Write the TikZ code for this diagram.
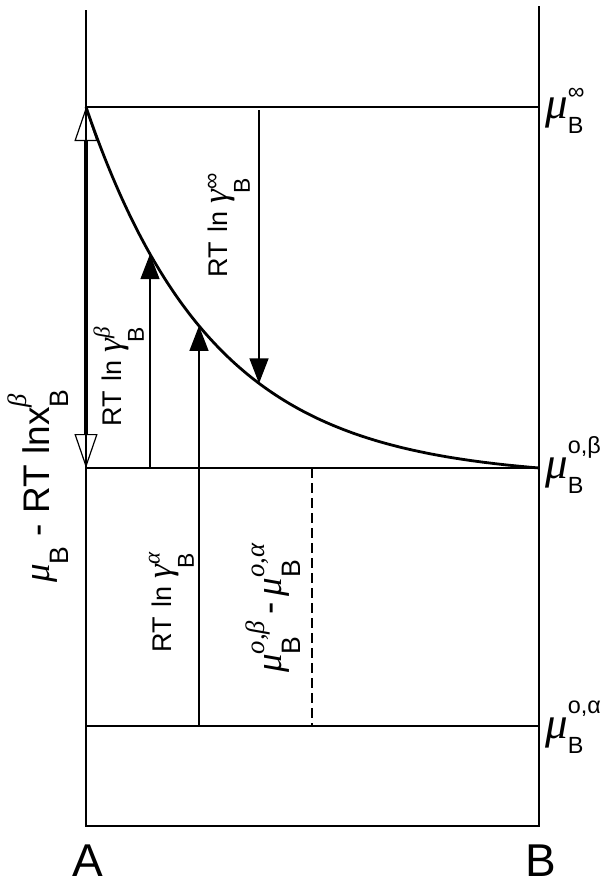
\documentclass[tikz,border=0pt]{standalone}
\usepackage{fontspec}
\setmainfont{Liberation Sans}
\newfontfamily\serifgr{Liberation Serif}
\usetikzlibrary{arrows.meta}
\newcommand{\gi}[1]{{\serifgr\itshape #1}}
\newdimen\scrw
\def\ssz{0.7em}\def\supup{0.5em}\def\subdn{0.6em}\def\muscale{1em}\def\subkern{0em}
% stacked super/subscript, both left aligned
\newcommand{\scr}[3][\supup]{%
  \setbox0\hbox{\fontsize{\ssz}{\ssz}\selectfont #2}%
  \setbox2\hbox{\fontsize{\ssz}{\ssz}\selectfont #3}%
  \scrw=\wd0 \ifdim\wd2>\scrw \scrw=\wd2\fi
  \hbox to \scrw{\rlap{\raisebox{#1}{\box0}}\rlap{\hspace*{\subkern}\raisebox{-\subdn}{\box2}}\hfil}}
\newcommand{\bmu}{{\serifgr\itshape\fontsize{\muscale}{\muscale}\selectfont μ}}
\newcommand{\bgam}{{\serifgr\itshape\fontsize{1.3em}{1em}\selectfont γ}}
\begin{document}
\begin{tikzpicture}[x=1pt,y=-1pt,
  thinline/.style={line width=1.3pt},
  curveline/.style={line width=2.8pt},
  solidarrow/.style={line width=1.3pt,-{Triangle[length=25pt,width=19pt]}},
  openarrow/.style={line width=3.4pt,{Triangle[open,length=34pt,width=23pt,line width=1.2pt]}-{Triangle[open,length=34pt,width=23pt,line width=1.2pt]}},
  smalllbl/.style={font=\fontsize{27}{30}\selectfont\def\ssz{0.85em}\def\supup{0.42em}\def\subdn{0.85em}\def\subkern{-0.15em},inner sep=0pt,anchor=base west},
  biglbl/.style={font=\fontsize{37}{40}\selectfont\def\ssz{0.72em}\def\supup{0.62em}\def\subdn{0.52em},inner sep=0pt,anchor=base west},
  sidelbl/.style={font=\fontsize{30}{34}\selectfont\def\ssz{0.78em}\def\supup{0.82em}\def\subdn{0.5em}\def\muscale{1.5em},inner sep=0pt,anchor=base west},
  ablbl/.style={font=\fontsize{46}{50}\selectfont,inner sep=0pt,anchor=base}]
\useasboundingbox (0,0) rectangle (613,878);
% frame coordinates
\coordinate (Ltop) at (86,10);
\coordinate (Rtop) at (539,6);
\coordinate (Lbot) at (86,826);
\coordinate (Rbot) at (539,826);
\coordinate (Linf) at (86,107);
\coordinate (Rinf) at (539,107);
\coordinate (Lbeta) at (86,468);
\coordinate (Rbeta) at (539,468);
\coordinate (Lalpha) at (86,726);
\coordinate (Ralpha) at (539,726);
% frame
\draw[thinline] (Ltop) -- (Lbot) -- (Rbot) -- (Rtop);
\draw[thinline] (Linf) -- (Rinf);
\draw[thinline] (Lbeta) -- (Rbeta);
\draw[thinline] (Lalpha) -- (Ralpha);
% curve
\draw[curveline,line join=round] plot[domain=86:539,samples=120,smooth]
  (\x,{107+361*(1-exp(-(\x-86)/127))/(1-exp(-453/127))});
% arrow end points
\coordinate (b1) at (150,468);
\coordinate (c1) at (150,254.1);
\coordinate (b2) at (199,726);
\coordinate (c2) at (199,325.9);
\coordinate (t3) at (259,110);
\coordinate (c3) at (259,383.4);
\coordinate (d1) at (312,468);
\coordinate (d2) at (312,726);
\draw[solidarrow] (b1) -- (c1);
\draw[solidarrow] (b2) -- (c2);
\draw[solidarrow] (t3) -- (c3);
\draw[thinline,dash pattern=on 10pt off 5pt] (d1) -- (d2);
\draw[openarrow] (Linf) -- (Lbeta);
% labels
\node[smalllbl,rotate=90] (ginf) at (227,278) {RT\hspace{0.1em} ln \bgam\scr[0.3em]{∞}{B}};
\node[smalllbl,rotate=90] (gbeta) at (121,427) {RT\hspace{0.1em} ln \bgam\scr{\gi{β}}{B}};
\node[smalllbl,rotate=90] (galpha) at (171,653) {RT\hspace{0.1em} ln \bgam\scr{\gi{α}}{B}};
\node[biglbl,rotate=90] (mudiff) at (281,673) {\bmu\scr[0.45em]{\gi{o,β}}{B}\,-\,\bmu\scr[0.45em]{\gi{o,α}}{B}};
\node[biglbl,rotate=90] (mux) at (49,583) {\bmu\scr[0em]{}{B} - RT lnx\scr{\gi{β}}{B}};
\node[sidelbl] (muinf) at (545,118) {\bmu\scr[0.62em]{∞}{B}};
\node[sidelbl] (mubeta) at (545,478) {\bmu\scr{o,β}{B}};
\node[sidelbl] (mualpha) at (545,738) {\bmu\scr{o,α}{B}};
\node[ablbl] (A) at (88,876) {A};
\node[ablbl] (B) at (541,876) {B};
\end{tikzpicture}
\end{document}
